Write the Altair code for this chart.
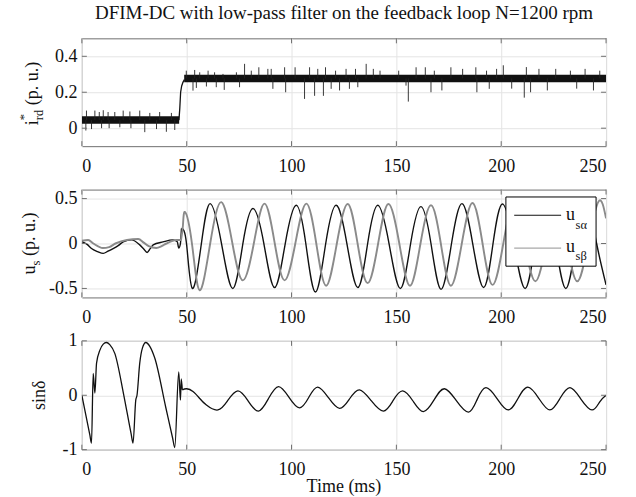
import altair as alt
import pandas as pd

FONT = "Liberation Serif"
W = 525
H1, H2, H3 = 108, 108, 109
BOX = "#6f6f6f"
GRID = "#e4e4e4"
INK = "#111111"
GRAY = "#8a8a8a"

title_text = "DFIM-DC with low-pass filter on the feedback loop N=1200 rpm"
x_title = "Time (ms)"
x_ticks = [0, 50, 100, 150, 200, 250]
ird_ticks = [0, 0.2, 0.4]
us_ticks = [-0.5, 0, 0.5]
sin_ticks = [-1, 0, 1]
ird_domain = [-0.1, 0.5]
us_domain = [-0.6, 0.6]
sin_domain = [-1, 1]

# ---------- panel 1 : i*_rd ----------
ird_pre_t = [0, 46.4]
ird_pre_lo = [0.025, 0.025]
ird_pre_hi = [0.066, 0.066]
ird_step_t = [46.3, 46.7, 47.1, 47.6, 48.2, 48.9]
ird_step_v = [0.045, 0.11, 0.20, 0.235, 0.255, 0.27]
ird_post_t = [48.8, 250]
ird_post_lo = [0.256, 0.256]
ird_post_hi = [0.298, 0.298]
ird_spike_t = [2.2, 6.2, 8.3, 10.2, 12.5, 15.7, 19.7, 22.9, 27.6, 32.4, 37.1, 42.7,
               1.9, 4.6, 9.4, 13.0, 18.1, 23.4, 30.0, 35.6, 40.3, 44.3,
               49.8, 53.8, 56.2, 60.2, 63.3, 67.3, 73.7, 77.6, 80.8, 84.4, 88.7, 90.3,
               96.7, 101.7, 108.6, 112.5, 116.2, 121.0, 126.0, 130.5, 135.6, 139.0,
               142.2, 151.1, 159.4, 163.8, 168.1, 176.0, 181.6, 187.9, 193.0, 197.8,
               201.0, 212.0, 218.0, 226.0, 233.0, 240.0, 247.0,
               53.0, 54.6, 59.4, 64.1, 67.9, 75.2, 91.1, 97.2, 106.2, 111.0, 115.2,
               118.9, 122.9, 127.6, 131.6, 154.6, 155.7, 166.5, 171.7, 188.4, 194.3,
               205.0, 211.0, 214.0, 222.0, 236.0, 244.0]
ird_spike_v = [0.098, 0.098, 0.09, 0.1, 0.09, 0.09, 0.098, 0.093, 0.098, 0.085, 0.09, 0.085,
               -0.013, -0.005, 0.0, 0.0, 0.005, 0.0, -0.022, -0.005, -0.02, -0.01,
               0.32, 0.324, 0.311, 0.32, 0.311, 0.302, 0.311, 0.358, 0.32, 0.339, 0.33, 0.33,
               0.339, 0.339, 0.339, 0.33, 0.339, 0.32, 0.33, 0.33, 0.358, 0.33,
               0.32, 0.32, 0.339, 0.339, 0.32, 0.339, 0.33, 0.339, 0.32, 0.33,
               0.35, 0.34, 0.33, 0.33, 0.32, 0.33, 0.32,
               0.209, 0.224, 0.232, 0.228, 0.213, 0.228, 0.219, 0.2, 0.163, 0.18, 0.18,
               0.219, 0.21, 0.219, 0.228, 0.237, 0.148, 0.2, 0.21, 0.2, 0.219,
               0.22, 0.17, 0.2, 0.21, 0.22, 0.21]

# ---------- panel 2 : u_s alpha / beta ----------
ua_pre_t = [0, 2.5, 4.6, 7.5, 10.2, 12.5, 14.9, 17.5, 19.7, 23.7, 27.6, 29.5, 31.1, 32.5, 34.0,
            38.7, 43.5, 45.5, 46.2, 47.0, 47.5]
ua_pre_v = [0.02, -0.01, -0.056, -0.09, -0.11, -0.085, -0.056, -0.02, 0.018, 0.04, -0.015, -0.06,
            -0.1, -0.06, -0.015, 0.018, 0.04, 0.02, -0.05, 0.0, 0.167]
ua_post_t = [47.5, 49.9, 52.7, 57.0, 61.2, 66.6, 72.0, 76.8, 81.6, 86.8, 91.9, 97.0, 102.2, 106.8,
             111.4, 116.3, 121.3, 126.4, 131.6, 136.3, 141.1, 146.5, 151.9, 156.8, 161.7,
             166.5, 171.3, 176.3, 181.3, 186.4, 191.6, 196.1, 200.6, 206.0, 211.4, 216.2,
             221.0, 225.9, 230.8, 235.6, 240.5, 245.5, 250.0]
ua_post_v = [0.167, 0.0, -0.50, 0.0, 0.444, 0.0, -0.50, 0.0, 0.39, 0.0, -0.49, 0.0, 0.425, 0.0,
             -0.54, 0.0, 0.425, 0.0, -0.49, 0.0, 0.425, 0.0, -0.50, 0.0, 0.41,
             0.0, -0.51, 0.0, 0.444, 0.0, -0.49, 0.0, 0.44, 0.0, -0.50, 0.0,
             0.43, 0.0, -0.50, 0.0, 0.43, 0.0, -0.46]
ub_pre_t = [0, 3.0, 5.5, 10.0, 13.0, 16.0, 21.5, 26.9, 29.5, 31.9, 35.5, 38.0, 40.3, 45.0, 47.3]
ub_pre_v = [0.03, 0.04, 0.0, -0.05, -0.04, 0.0, 0.04, 0.05, 0.01, -0.03, -0.05, -0.03, 0.0, 0.04, 0.04]
ub_post_t = [47.3, 48.2, 49.2, 52.5, 56.2, 61.2, 66.5, 71.8, 76.8, 82.0, 87.1, 92.0, 96.7, 101.8,
             107.0, 111.8, 116.5, 121.6, 126.8, 131.5, 136.3, 141.3, 146.2, 151.4, 156.5,
             161.5, 166.5, 171.2, 176.0, 181.2, 186.3, 191.1, 195.9, 201.0, 206.0, 211.2,
             216.3, 221.4, 226.5, 231.4, 236.3, 241.4, 246.5, 250.0]
ub_post_v = [0.04, 0.2, 0.35, 0.0, -0.52, 0.0, 0.46, 0.0, -0.41, 0.0, 0.444, 0.0, -0.41, 0.0,
             0.444, 0.0, -0.47, 0.0, 0.44, 0.0, -0.44, 0.0, 0.44, 0.0, -0.47,
             0.0, 0.425, 0.0, -0.47, 0.0, 0.45, 0.0, -0.46, 0.0, 0.44, 0.0,
             -0.42, 0.0, 0.44, 0.0, -0.42, 0.0, 0.47, 0.28]

# ---------- panel 3 : sin delta ----------
sd_pre_t = [0, 3.8, 4.6, 5.4, 6.2, 7.0, 8.6, 10.2, 11.7, 13.3, 15.7, 20.0, 23.5, 24.4, 25.7, 26.3,
            27.6, 28.9, 30.5, 32.4, 34.8, 40.0, 43.3, 44.3, 46.2, 47.0, 47.4, 47.9]
sd_pre_v = [0.0, -0.73, -0.88, 0.4, 0.04, 0.59, 0.83, 0.94, 0.97, 0.93, 0.77, 0.0, -0.71, -0.88,
            -0.09, 0.0, 0.59, 0.87, 0.97, 0.9, 0.68, -0.22, -0.79, -0.96, 0.43, -0.09, 0.3, 0.1]
sd_post_t = [47.9, 50.0, 53.0, 56.0, 59.4, 64.9, 69.5, 74.4, 79.2, 84.2, 89.0, 93.8, 98.8, 103.8,
             108.2, 112.5, 117.7, 122.9, 127.6, 132.4, 138.0, 143.8, 148.4, 153.0, 158.0, 162.9,
             167.9, 172.9, 178.6, 184.4, 188.5, 192.7, 198.0, 203.3, 208.0, 212.7, 218.0, 223.2,
             228.0, 232.8, 238.0, 243.3, 247.0, 250.0]
sd_post_v = [0.1, 0.12, 0.07, -0.05, -0.18, -0.27, -0.1, 0.08, -0.1, -0.29, -0.06, 0.16, -0.04,
             -0.23, -0.04, 0.15, -0.05, -0.24, -0.07, 0.1, -0.1, -0.29, -0.1, 0.08, -0.11, -0.30,
             -0.09, 0.12, -0.1, -0.31, -0.08, 0.14, -0.06, -0.27, -0.06, 0.15, -0.06, -0.27,
             -0.06, 0.14, -0.07, -0.27, -0.12, 0.0]

# ---------- tables ----------
df_pre = pd.DataFrame({"t": ird_pre_t, "lo": ird_pre_lo, "hi": ird_pre_hi})
df_post = pd.DataFrame({"t": ird_post_t, "lo": ird_post_lo, "hi": ird_post_hi})
df_step = pd.DataFrame({"t": ird_step_t, "v": ird_step_v})
df_spk = pd.DataFrame({"t": ird_spike_t, "v": ird_spike_v})
df_spk["base"] = [0.045 if t < 47 else 0.277 for t in df_spk["t"]]
df_ua_pre = pd.DataFrame({"t": ua_pre_t, "v": ua_pre_v})
df_ua_post = pd.DataFrame({"t": ua_post_t, "v": ua_post_v})
df_ub_pre = pd.DataFrame({"t": ub_pre_t, "v": ub_pre_v})
df_ub_post = pd.DataFrame({"t": ub_post_t, "v": ub_post_v})
df_sd_pre = pd.DataFrame({"t": sd_pre_t, "v": sd_pre_v})
df_sd_post = pd.DataFrame({"t": sd_post_t, "v": sd_post_v})
df_xt = pd.DataFrame({"t": x_ticks})
one = pd.DataFrame({"k": [0]})


def X():
    return alt.X("t:Q", scale=alt.Scale(domain=[0, 250], nice=False, zero=False),
                 axis=alt.Axis(values=x_ticks, title=None, labelExpr="datum.value + ''"))


def Y(field, domain, ticks):
    return alt.Y(f"{field}:Q", scale=alt.Scale(domain=domain, nice=False, zero=False),
                 axis=alt.Axis(values=ticks, title=None, labelExpr="datum.value + ''"))


def inner_ticks(domain, ticks, h):
    dy = pd.DataFrame({"v": ticks})
    ysc = alt.Scale(domain=domain, nice=False, zero=False)
    top = alt.Chart(df_xt).mark_rule(color=BOX, strokeWidth=1).encode(
        x=X(), y=alt.value(0), y2=alt.value(5))
    bot = alt.Chart(df_xt).mark_rule(color=BOX, strokeWidth=1).encode(
        x=X(), y=alt.value(h - 5), y2=alt.value(h))
    left = alt.Chart(dy).mark_rule(color=BOX, strokeWidth=1).encode(
        y=alt.Y("v:Q", scale=ysc), x=alt.value(0), x2=alt.value(5))
    right = alt.Chart(dy).mark_rule(color=BOX, strokeWidth=1).encode(
        y=alt.Y("v:Q", scale=ysc), x=alt.value(W - 5), x2=alt.value(W))
    return [top, bot, left, right]


def txt(s, x, y, size=17, angle=0, align="left", baseline="alphabetic", color=INK):
    kw = dict(text=s, font=FONT, fontSize=size, align=align, baseline=baseline, color=color)
    if angle:
        kw["angle"] = angle
    return alt.Chart(one).mark_text(**kw).encode(x=alt.value(x), y=alt.value(y))


def anchor(x, y):
    return alt.Chart(one).mark_rule(strokeOpacity=0, strokeWidth=1).encode(
        x=alt.value(x), x2=alt.value(x + 1), y=alt.value(y))


def wave(df, color, width, interp, domain, ticks):
    return alt.Chart(df).mark_line(color=color, strokeWidth=width, interpolate=interp, clip=True).encode(
        x=X(), y=Y("v", domain, ticks))


# ---------- panel 1 ----------
p1_layers = [
    alt.Chart(df_pre).mark_area(color=INK, clip=True).encode(
        x=X(), y=Y("lo", ird_domain, ird_ticks), y2="hi:Q"),
    alt.Chart(df_post).mark_area(color=INK, clip=True).encode(
        x=X(), y=Y("lo", ird_domain, ird_ticks), y2="hi:Q"),
    alt.Chart(df_step).mark_line(color=INK, strokeWidth=1.3, clip=True).encode(
        x=X(), y=Y("v", ird_domain, ird_ticks)),
    alt.Chart(df_spk).mark_rule(color="#222222", strokeWidth=0.9, clip=True).encode(
        x=X(), y=Y("base", ird_domain, ird_ticks), y2="v:Q"),
] + inner_ticks(ird_domain, ird_ticks, H1) + [
    txt(title_text, W / 2, -25, size=19, align="center", baseline="middle"),
    txt("i", -44, 87, size=18, angle=270),
    txt("*", -54, 82, size=12.5, angle=270),
    txt("rd", -39, 82, size=12.5, angle=270),
    txt("(p. u.)", -44, 67.0, size=18, angle=270),
    anchor(-81.5, -37.5),
    anchor(W + 28, 0),
]
p1 = alt.layer(*p1_layers).properties(width=W, height=H1)

# ---------- panel 2 ----------
LX0, LX1, LY0, LY1 = 424.7, 515, 7.4, 76.7
p2_layers = [
    wave(df_ua_pre, INK, 1.4, "monotone", us_domain, us_ticks),
    wave(df_ua_post, INK, 1.4, "natural", us_domain, us_ticks),
    wave(df_ub_pre, GRAY, 2.0, "monotone", us_domain, us_ticks),
    wave(df_ub_post, GRAY, 1.9, "natural", us_domain, us_ticks),
] + inner_ticks(us_domain, us_ticks, H2) + [
    alt.Chart(one).mark_rect(fill="white", stroke="#000000", strokeWidth=1).encode(
        x=alt.value(LX0), x2=alt.value(LX1), y=alt.value(LY0), y2=alt.value(LY1)),
    alt.Chart(one).mark_rule(color=INK, strokeWidth=1.2).encode(
        x=alt.value(433), x2=alt.value(480), y=alt.value(25.7)),
    alt.Chart(one).mark_rule(color="#a8a8a8", strokeWidth=1.2).encode(
        x=alt.value(433), x2=alt.value(480), y=alt.value(58.7)),
    txt("u", 485, 30.7, size=18),
    txt("sα", 494.5, 39.5, size=12.5),
    txt("u", 485, 62.7, size=18),
    txt("sβ", 494.5, 71.0, size=12.5),
    txt("u", -47, 85, size=18, angle=270),
    txt("s", -42, 76, size=12.5, angle=270),
    txt("(p. u.)", -47, 66.5, size=18, angle=270),
]
p2 = alt.layer(*p2_layers).properties(width=W, height=H2)

# ---------- panel 3 ----------
p3_layers = [
    wave(df_sd_pre, INK, 1.3, "monotone", sin_domain, sin_ticks),
    wave(df_sd_post, INK, 1.3, "natural", sin_domain, sin_ticks),
] + inner_ticks(sin_domain, sin_ticks, H3) + [
    txt("sinδ", -37, H3 / 2, size=18, angle=270, align="center"),
    txt(x_title, W / 2, H3 + 37, size=18, align="center", baseline="middle"),
    anchor(-81.5, 0),
    anchor(0, H3 + 47),
]
p3 = alt.layer(*p3_layers).properties(width=W, height=H3)

chart = alt.vconcat(p1, p2, p3, spacing=43.5, bounds="flush").properties(
    padding={"left": 0, "top": 0, "right": 0, "bottom": 0}
).configure_view(
    stroke=BOX, strokeWidth=1, fill="white"
).configure_axis(
    labelFont=FONT, labelFontSize=18, labelColor=INK, domain=False, ticks=False, tickSize=0,
    grid=True, gridColor=GRID, gridWidth=1
).configure_axisX(labelPadding=11).configure_axisY(labelPadding=5)

chart.save("out.html", embed_options={"renderer": "svg", "actions": False})
